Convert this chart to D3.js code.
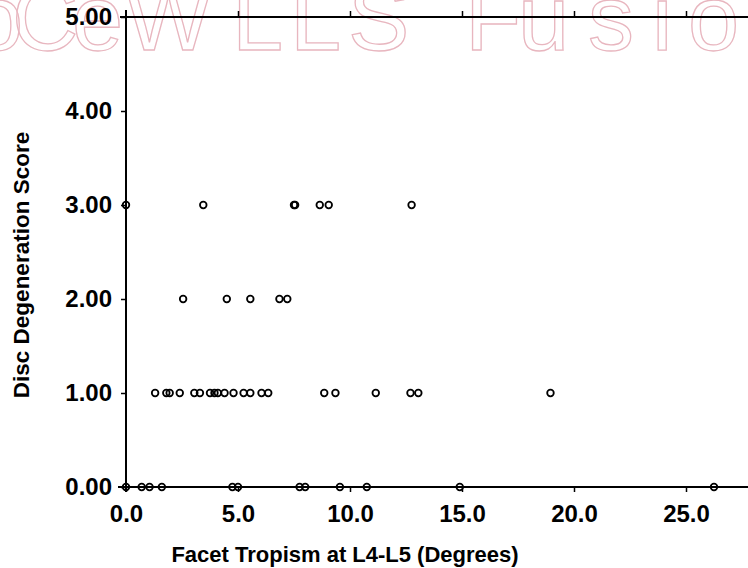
<!DOCTYPE html>
<html>
<head>
<meta charset="utf-8">
<script src="https://cdn.jsdelivr.net/npm/d3@7"></script>
<style>
	body { margin: 0; background: #fff; }
	svg { display: block; }
	text { font-family: 'Liberation Sans', Arial, sans-serif; }
</style>
</head>
<body>
<div id="chart"></div>
<script>
const width = 748;
const height = 568;

// Facet tropism (degrees) for each disc degeneration score
const score0 = [0.0, 0.7, 1.05, 1.6, 4.75, 5.0, 7.75, 8.0, 9.55, 10.75, 14.9, 26.25];
const score1 = [1.3, 1.8, 1.95, 2.4, 3.05, 3.3, 3.75, 3.95, 4.1, 4.4, 4.8, 5.25, 5.55, 6.05, 6.35,
	8.85, 9.35, 11.15, 12.7, 13.05, 18.95];
const score2 = [2.55, 4.5, 5.55, 6.85, 7.2];
const score3 = [0.0, 3.45, 7.5, 7.55, 8.65, 9.05, 12.75];

const xTicks = [0, 5, 10, 15, 20, 25];
const yTicks = [0, 1, 2, 3, 4, 5];

const points = [];
[score0, score1, score2, score3].forEach((list, score) => {
	list.forEach((t) => points.push({ tropism: t, score: score }));
});

const svg = d3.select('#chart').append('svg').attr('width', width).attr('height', height);

// faint watermark left on the scanned figure
svg.append('text')
	.attr('x', '-28 12 72 125 232 290 348 410 465 518 588 652 688')
	.attr('y', 50)
	.attr('font-size', 92)
	.attr('font-family', 'DejaVu Sans')
	.attr('font-weight', 200)
	.attr('fill', 'none')
	.attr('stroke', '#e8b6bf')
	.attr('stroke-width', 1.3)
	.text('oCeWLLS Fusio');

// scales ==============================================================
const xScale = d3.scaleLinear().domain([0, 30]).range([126, 126 + 30 * 22.4]);
const yScale = d3.scaleLinear().domain([0, 5]).range([487, 17]);

// bottom axis
const xAxis = d3.axisBottom(xScale).tickValues(xTicks).tickSize(5).tickFormat(d3.format('.1f'));
const gx = svg.append('g').attr('transform', `translate(0, ${yScale(0)})`).call(xAxis);
gx.select('.domain').remove();
gx.selectAll('.tick line').attr('stroke-width', 1.5);
gx.selectAll('.tick text')
	.attr('y', 18)
	.attr('font-size', 24)
	.attr('font-weight', 'bold')
	.attr('font-family', null);
gx.append('line').attr('x1', 118).attr('x2', width).attr('stroke', '#000').attr('stroke-width', 2);

// top frame line with upward ticks
const xTop = d3.axisTop(xScale).tickValues(xTicks.slice(1)).tickSize(6).tickFormat('');
const gt = svg.append('g').attr('transform', `translate(0, ${yScale(5)})`).call(xTop);
gt.select('.domain').remove();
gt.selectAll('.tick line').attr('stroke-width', 1.5);
gt.append('line').attr('x1', 120).attr('x2', width).attr('stroke', '#000').attr('stroke-width', 2);

// left axis
const yAxis = d3.axisLeft(yScale).tickValues(yTicks).tickSize(5).tickPadding(9).tickFormat(d3.format('.2f'));
const gy = svg.append('g').attr('transform', `translate(${xScale(0)}, 0)`).call(yAxis);
gy.select('.domain').remove();
gy.selectAll('.tick line').attr('stroke-width', 1.5);
gy.selectAll('.tick text')
	.attr('font-size', 24)
	.attr('font-weight', 'bold')
	.attr('font-family', null);
gy.append('line').attr('y1', 10).attr('y2', 492).attr('stroke', '#000').attr('stroke-width', 2);

// axis titles
svg.append('text')
	.attr('x', 345)
	.attr('y', 562)
	.attr('text-anchor', 'middle')
	.attr('font-size', 22)
	.attr('font-weight', 'bold')
	.text('Facet Tropism at L4-L5 (Degrees)');

svg.append('text')
	.attr('transform', 'translate(29, 265) rotate(-90)')
	.attr('text-anchor', 'middle')
	.attr('font-size', 22.5)
	.attr('font-weight', 'bold')
	.text('Disc Degeneration Score');

// points
svg.append('g')
	.selectAll('circle')
	.data(points)
	.join('circle')
	.attr('cx', (d) => xScale(d.tropism))
	.attr('cy', (d) => yScale(d.score))
	.attr('r', 3.3)
	.attr('fill', 'none')
	.attr('stroke', '#000')
	.attr('stroke-width', 1.8);
</script>
</body>
</html>
